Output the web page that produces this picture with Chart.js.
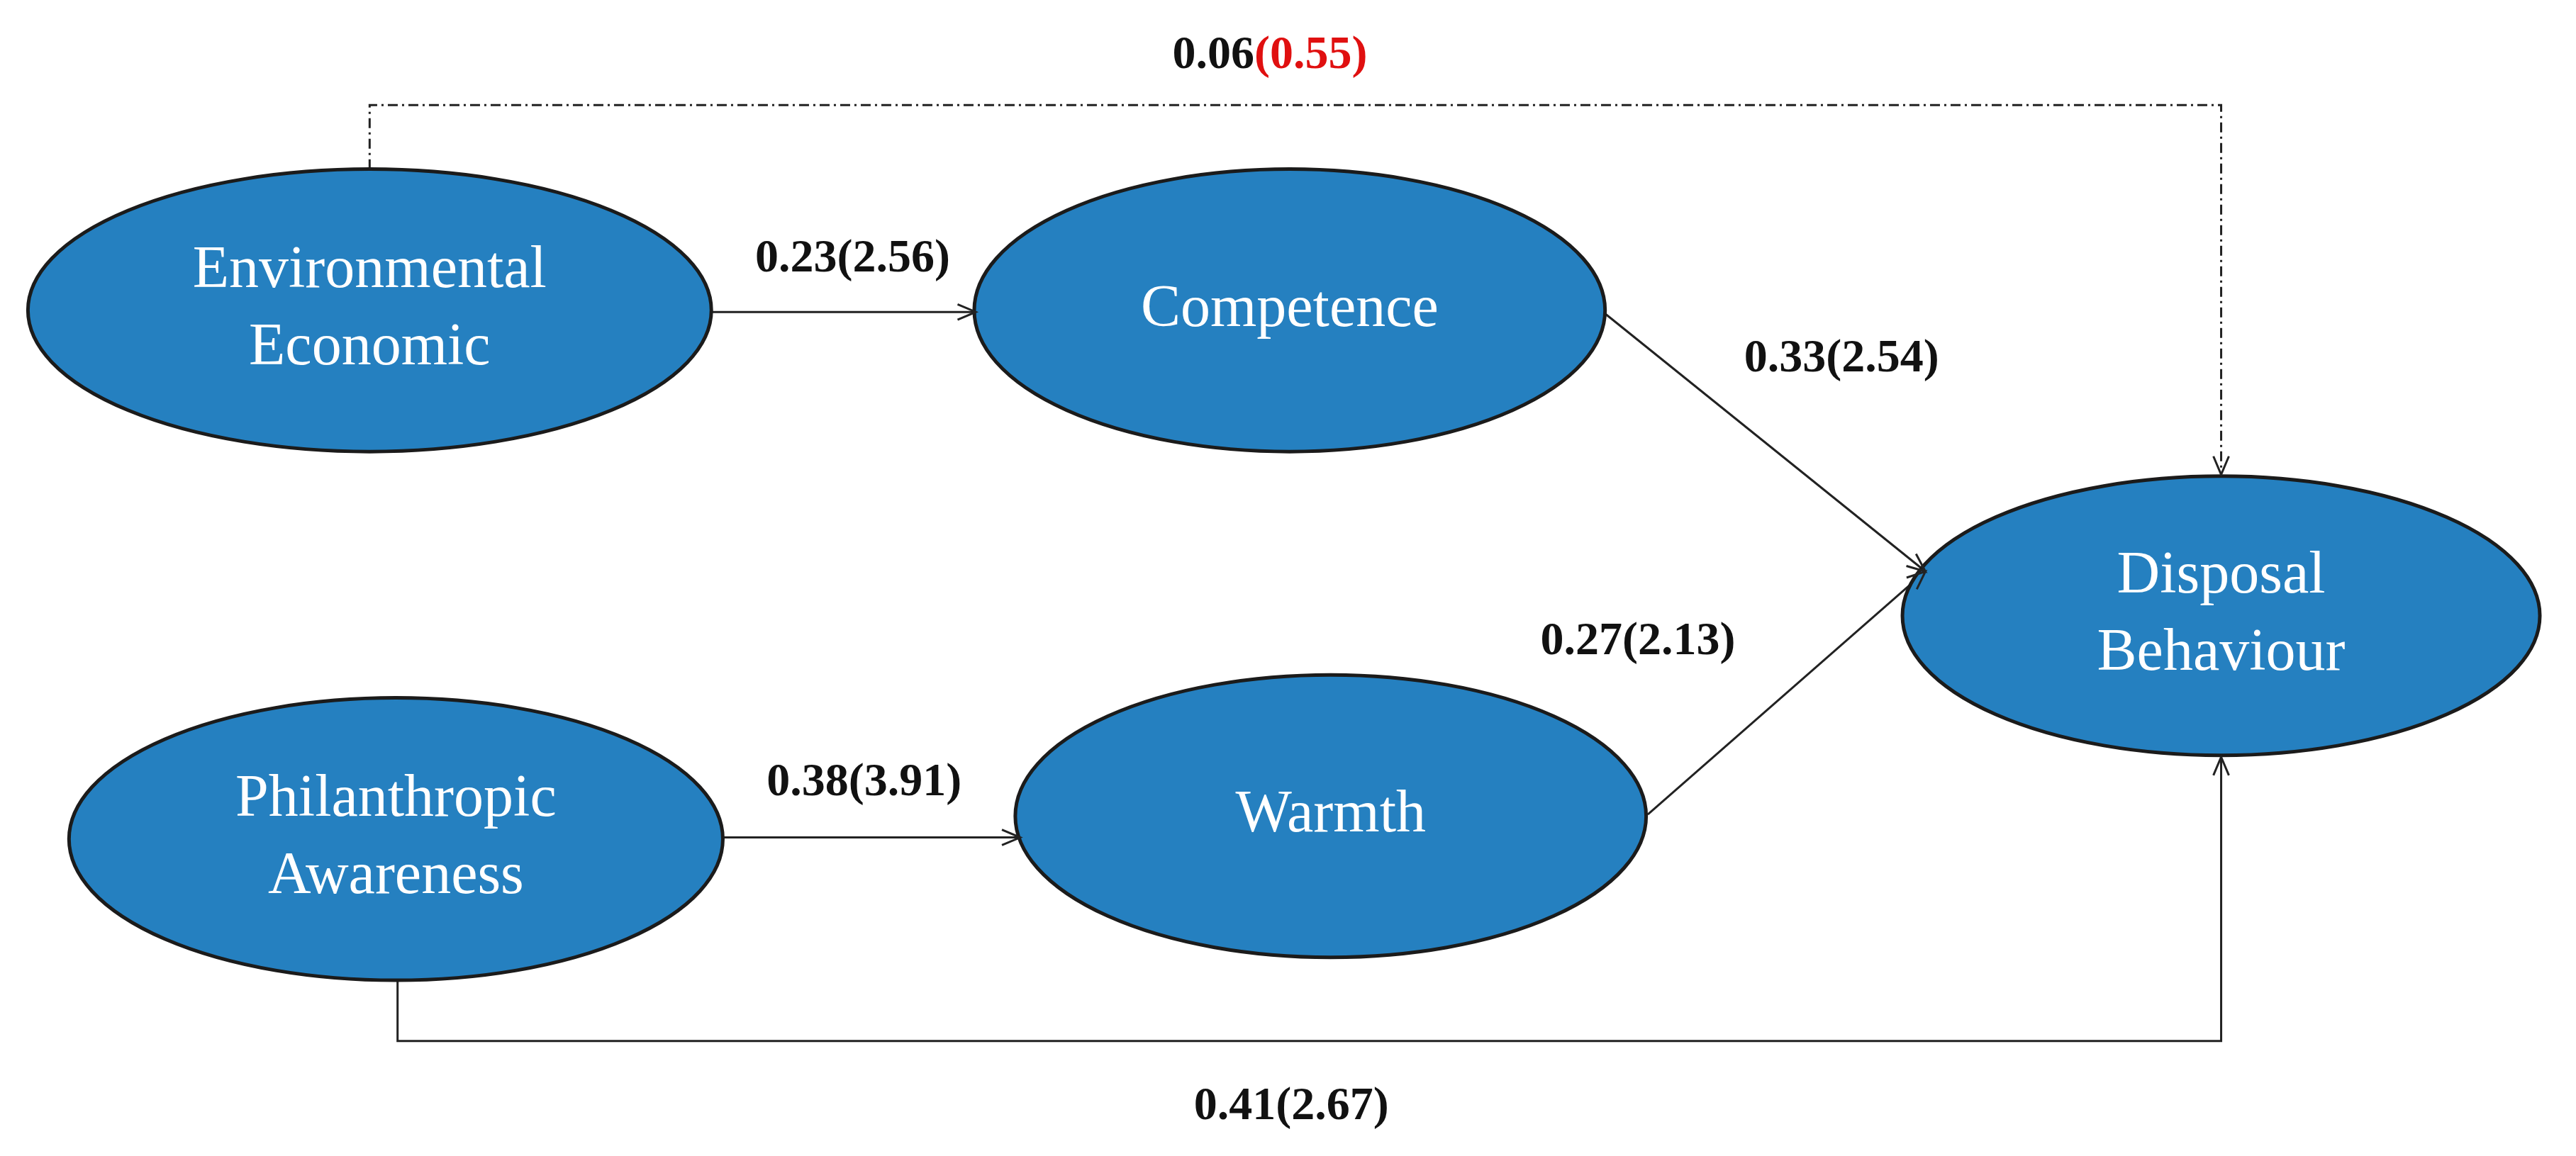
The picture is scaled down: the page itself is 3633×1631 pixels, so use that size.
<!DOCTYPE html>
<html lang="en">
<head>
<meta charset="UTF-8" />
<title>Path model</title>
<script src="https://cdn.jsdelivr.net/npm/chart.js"></script>
<style>
  html, body { margin: 0; padding: 0; background: #fff; }
  #wrap { width: 3633px; height: 1631px; }
</style>
</head>
<body>
<div id="wrap"><canvas id="pathChart" width="3633" height="1631"></canvas></div>
<script>
  // nodes (diagram units, 1568 x 704 sheet)
  const nodeNames = [['Environmental', 'Economic'], ['Competence'], ['Disposal', 'Behaviour'], ['Philanthropic', 'Awareness'], ['Warmth']];
  const nodeX = [225, 785, 1352, 241, 810];
  const nodeY = [189, 189, 375, 511, 497];
  const nodeRx = [208, 192, 194, 199, 192];
  const nodeRy = [86, 86, 85, 86, 86];

  // paths: list of [x, y] points, last point gets an arrowhead
  const edgePaths = [
    [[225, 103], [225, 64], [1352, 64], [1352, 289]],
    [[433, 190], [594, 190]],
    [[977, 191], [1172, 348]],
    [[1003, 496], [1172, 348]],
    [[440, 510], [621, 510]],
    [[242, 597], [242, 634], [1352, 634], [1352, 461]]
  ];
  const edgeDashed = [true, false, false, false, false, false];

  const coefLabels = ['0.06', '0.23(2.56)', '0.33(2.54)', '0.27(2.13)', '0.38(3.91)', '0.41(2.67)'];
  const labelX = [773, 519, 1121, 997, 526, 786];
  const labelY = [34, 158, 219, 391, 477, 674];
  const redPart = '(0.55)';

  const K = 3633 / 1568;

  const datasets = edgePaths.map((p, i) => ({
    data: p.map(([x, y]) => ({ x, y })),
    showLine: true,
    borderColor: '#222',
    borderWidth: 3,
    borderDash: edgeDashed[i] ? [14, 6, 3, 6] : [],
    pointRadius: 0,
    tension: 0
  }));

  const diagram = {
    id: 'diagram',
    afterDatasetsDraw(chart) {
      const { ctx, scales: { x, y } } = chart;
      ctx.save();
      // ellipses
      nodeNames.forEach((lines, i) => {
        const cx = x.getPixelForValue(nodeX[i]), cy = y.getPixelForValue(nodeY[i]);
        ctx.beginPath();
        ctx.ellipse(cx, cy, nodeRx[i] * K, nodeRy[i] * K, 0, 0, Math.PI * 2);
        ctx.fillStyle = '#2580c0';
        ctx.fill();
        ctx.strokeStyle = '#1b1b1b';
        ctx.lineWidth = 5;
        ctx.stroke();
        ctx.fillStyle = '#fff';
        ctx.font = '84px "Liberation Serif", serif';
        ctx.textAlign = 'center';
        ctx.textBaseline = 'middle';
        lines.forEach((t, j) => {
          ctx.fillText(t, cx, cy + (j - (lines.length - 1) / 2) * 109);
        });
      });
      // arrowheads
      edgePaths.forEach(p => {
        const a = p[p.length - 2], b = p[p.length - 1];
        const bx = x.getPixelForValue(b[0]), by = y.getPixelForValue(b[1]);
        const ang = Math.atan2(by - y.getPixelForValue(a[1]), bx - x.getPixelForValue(a[0]));
        ctx.strokeStyle = '#222';
        ctx.lineWidth = 3;
        ctx.setLineDash([]);
        ctx.beginPath();
        ctx.moveTo(bx - 28 * Math.cos(ang - 0.4), by - 28 * Math.sin(ang - 0.4));
        ctx.lineTo(bx, by);
        ctx.lineTo(bx - 28 * Math.cos(ang + 0.4), by - 28 * Math.sin(ang + 0.4));
        ctx.stroke();
      });
      // coefficients
      ctx.font = 'bold 66px "Liberation Serif", serif';
      ctx.textBaseline = 'middle';
      coefLabels.forEach((t, i) => {
        const lx = x.getPixelForValue(labelX[i]), ly = y.getPixelForValue(labelY[i]);
        ctx.fillStyle = '#111';
        if (i === 0) {
          const w1 = ctx.measureText(t).width, w2 = ctx.measureText(redPart).width;
          const start = lx - (w1 + w2) / 2;
          ctx.textAlign = 'left';
          ctx.fillText(t, start, ly);
          ctx.fillStyle = '#e01010';
          ctx.fillText(redPart, start + w1, ly);
        } else {
          ctx.textAlign = 'center';
          ctx.fillText(t, lx, ly);
        }
      });
      ctx.restore();
    }
  };

  new Chart(document.getElementById('pathChart'), {
    type: 'scatter',
    data: { datasets },
    options: {
      responsive: false,
      animation: false,
      devicePixelRatio: 1,
      layout: { padding: 0 },
      plugins: { legend: { display: false }, tooltip: { enabled: false } },
      scales: {
        x: { type: 'linear', min: 0, max: 1568, display: false },
        y: { type: 'linear', min: 0, max: 704, reverse: true, display: false }
      }
    },
    plugins: [diagram]
  });
</script>
</body>
</html>
